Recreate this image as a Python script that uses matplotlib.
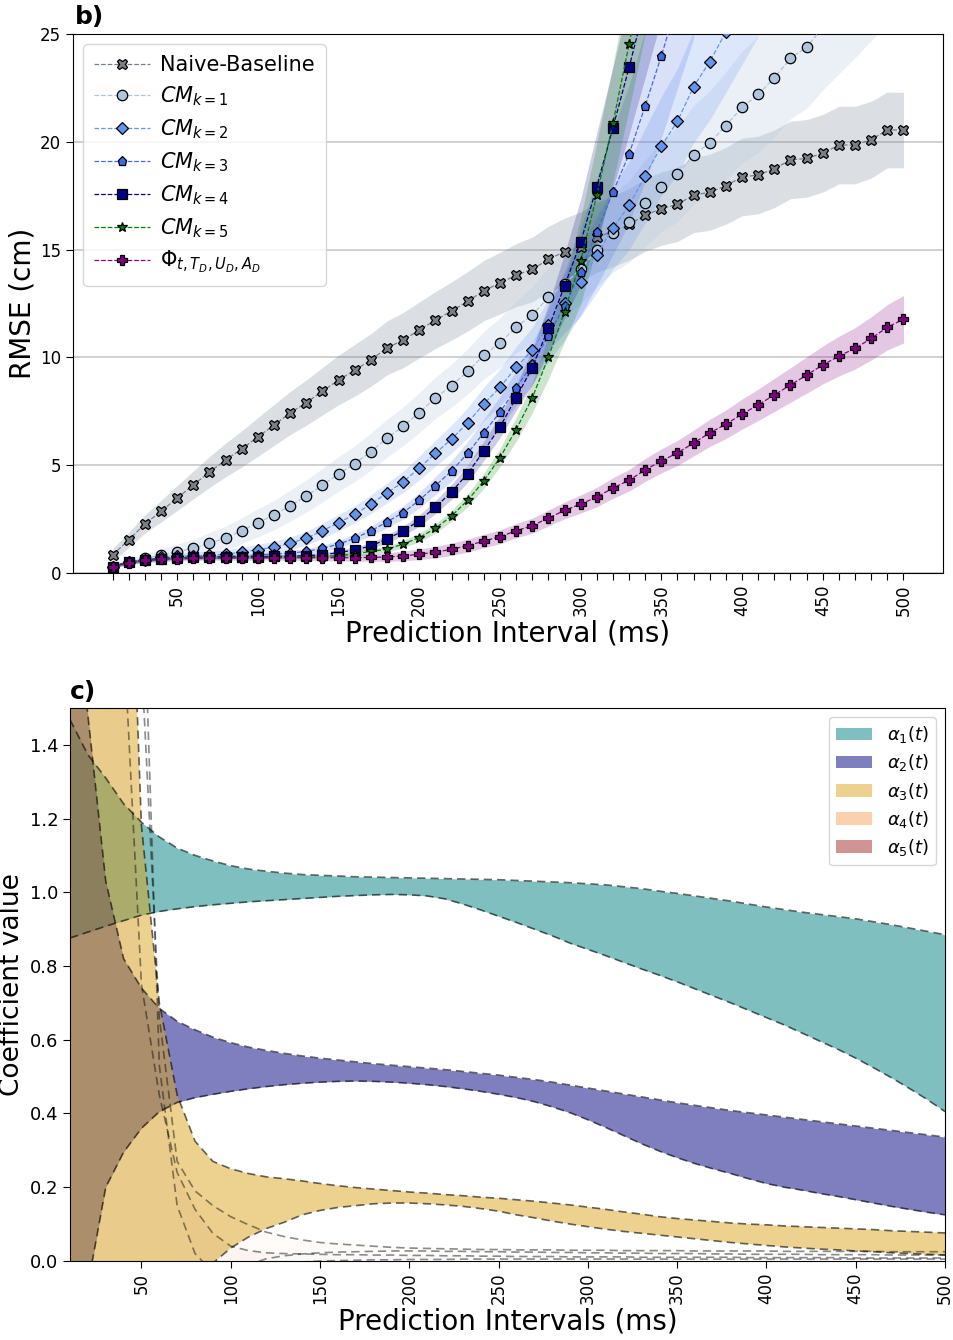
import matplotlib
matplotlib.use("Agg")
import matplotlib.pyplot as plt
import numpy as np
from matplotlib.patches import Patch

nan = float("nan")

# ---------------- panel b) data ----------------
x_ms = list(range(10, 501, 10))

naive = [0.83, 1.53, 2.27, 2.86, 3.47, 4.08, 4.68, 5.24, 5.75, 6.31,
         6.86, 7.42, 7.9, 8.43, 8.95, 9.4, 9.88, 10.44, 10.8, 11.27,
         11.73, 12.15, 12.6, 13.1, 13.44, 13.82, 14.08, 14.55, 14.9, 15.14,
         15.57, 15.85, 16.17, 16.6, 16.9, 17.1, 17.53, 17.66, 17.96, 18.37,
         18.46, 18.75, 19.16, 19.23, 19.47, 19.85, 19.85, 20.1, 20.55, 20.55]
naive_sd = [0.3, 0.35, 0.42, 0.5, 0.58, 0.65, 0.72, 0.78, 0.84, 0.9,
            0.95, 1.0, 1.05, 1.1, 1.15, 1.2, 1.22, 1.25, 1.28, 1.3,
            1.32, 1.35, 1.38, 1.4, 1.43, 1.46, 1.5, 1.53, 1.56, 1.6,
            1.62, 1.64, 1.66, 1.68, 1.7, 1.72, 1.74, 1.76, 1.78, 1.8,
            1.8, 1.8, 1.8, 1.8, 1.8, 1.8, 1.8, 1.78, 1.76, 1.75]

cm1 = [0.3, 0.52, 0.68, 0.83, 0.99, 1.14, 1.38, 1.61, 1.96, 2.33,
       2.69, 3.12, 3.57, 4.07, 4.59, 5.07, 5.63, 6.25, 6.8, 7.44,
       8.12, 8.69, 9.35, 10.1, 10.68, 11.4, 11.97, 12.78, 13.4, 14.1,
       14.98, 15.75, 16.3, 17.15, 17.92, 18.5, 19.39, 19.96, 20.75, 21.6,
       22.2, 22.97, 23.87, 24.4, 25.3, 26.1, 26.9, 27.7, 28.5, 29.3]
cm1_sd = [0.1, 0.15, 0.2, 0.28, 0.35, 0.42, 0.5, 0.55, 0.6, 0.65,
          0.68, 0.72, 0.75, 0.78, 0.8, 0.83, 0.86, 0.88, 0.9, 0.93,
          0.96, 1.0, 1.05, 1.1, 1.15, 1.2, 1.3, 1.4, 1.5, 1.6,
          1.7, 1.8, 1.9, 2.0, 2.1, 2.2, 2.3, 2.4, 2.5, 2.6,
          2.7, 2.75, 2.8, 2.85, 2.9, 2.95, 3.0, 3.0, 3.0, 3.0]

cm2 = [0.3, 0.5, 0.6, 0.72, 0.78, 0.8, 0.82, 0.87, 0.97, 1.08,
       1.2, 1.38, 1.61, 1.96, 2.33, 2.72, 3.19, 3.71, 4.22, 4.87,
       5.55, 6.21, 6.97, 7.84, 8.61, 9.54, 10.34, 11.5, 12.54, 13.5,
       14.75, 15.99, 17.05, 18.43, 19.8, 20.96, 22.56, 23.72, 25.1, 26.5,
       27.9, 29.3, nan, nan, nan, nan, nan, nan, nan, nan]
cm2_sd = [0.08, 0.1, 0.1, 0.12, 0.14, 0.16, 0.18, 0.2, 0.22, 0.25,
          0.27, 0.3, 0.32, 0.35, 0.38, 0.4, 0.43, 0.46, 0.5, 0.55,
          0.6, 0.65, 0.7, 0.78, 0.85, 0.95, 1.05, 1.2, 1.4, 1.6,
          1.75, 1.9, 2.05, 2.2, 2.3, 2.45, 2.6, 2.7, 2.8, 2.9,
          3.0, 3.0, nan, nan, nan, nan, nan, nan, nan, nan]

cm3 = [0.3, 0.5, 0.6, 0.68, 0.72, 0.74, 0.76, 0.78, 0.8, 0.83,
       0.87, 0.92, 1.0, 1.14, 1.34, 1.61, 1.95, 2.37, 2.8, 3.37,
       4.05, 4.73, 5.55, 6.51, 7.45, 8.57, 9.7, 11.0, 12.4, 13.97,
       15.83, 17.66, 19.43, 21.67, 23.98, 26.5, 29.0, nan, nan, nan,
       nan, nan, nan, nan, nan, nan, nan, nan, nan, nan]
cm3_sd = [0.06, 0.08, 0.08, 0.08, 0.08, 0.08, 0.08, 0.09, 0.1, 0.1,
          0.11, 0.12, 0.13, 0.15, 0.17, 0.2, 0.23, 0.27, 0.31, 0.36,
          0.42, 0.48, 0.55, 0.63, 0.72, 0.82, 0.95, 1.2, 1.6, 2.0,
          2.5, 2.9, 3.2, 3.5, 3.8, 4.0, 4.2, nan, nan, nan,
          nan, nan, nan, nan, nan, nan, nan, nan, nan, nan]

cm4 = [0.3, 0.5, 0.6, 0.66, 0.7, 0.72, 0.73, 0.74, 0.75, 0.76,
       0.77, 0.78, 0.8, 0.85, 0.94, 1.07, 1.25, 1.58, 1.95, 2.43,
       3.05, 3.76, 4.61, 5.66, 6.77, 8.13, 9.52, 11.35, 13.31, 15.34,
       17.92, 20.65, 23.45, 26.4, 29.3, nan, nan, nan, nan, nan,
       nan, nan, nan, nan, nan, nan, nan, nan, nan, nan]
cm4_sd = [0.06, 0.07, 0.07, 0.07, 0.07, 0.07, 0.07, 0.07, 0.07, 0.07,
          0.08, 0.08, 0.09, 0.1, 0.11, 0.13, 0.15, 0.18, 0.22, 0.26,
          0.3, 0.35, 0.4, 0.45, 0.5, 0.6, 0.8, 1.1, 1.5, 2.0,
          2.5, 2.8, 3.1, 3.4, 3.6, nan, nan, nan, nan, nan,
          nan, nan, nan, nan, nan, nan, nan, nan, nan, nan]

cm5 = [0.3, 0.5, 0.6, 0.66, 0.7, 0.71, 0.72, 0.72, 0.73, 0.73,
       0.74, 0.74, 0.75, 0.76, 0.8, 0.88, 1.0, 1.1, 1.34, 1.64,
       2.07, 2.64, 3.37, 4.27, 5.35, 6.65, 8.12, 10.0, 12.12, 14.47,
       17.53, 20.86, 24.52, 28.3, 32.0, nan, nan, nan, nan, nan,
       nan, nan, nan, nan, nan, nan, nan, nan, nan, nan]
cm5_sd = [0.05, 0.06, 0.06, 0.06, 0.06, 0.06, 0.06, 0.06, 0.06, 0.06,
          0.06, 0.07, 0.07, 0.08, 0.09, 0.1, 0.12, 0.14, 0.17, 0.2,
          0.22, 0.25, 0.3, 0.35, 0.42, 0.55, 0.7, 1.0, 1.4, 2.0,
          2.4, 2.7, 3.0, 3.3, 3.6, nan, nan, nan, nan, nan,
          nan, nan, nan, nan, nan, nan, nan, nan, nan, nan]

phi = [0.3, 0.48, 0.58, 0.63, 0.66, 0.68, 0.69, 0.7, 0.7, 0.7,
       0.71, 0.71, 0.71, 0.71, 0.71, 0.71, 0.72, 0.74, 0.79, 0.87,
       0.96, 1.1, 1.27, 1.48, 1.68, 1.96, 2.19, 2.55, 2.9, 3.2,
       3.52, 3.94, 4.3, 4.78, 5.2, 5.57, 6.03, 6.5, 6.9, 7.37,
       7.8, 8.26, 8.72, 9.18, 9.65, 10.06, 10.42, 10.88, 11.4, 11.77]
phi_sd = [0.05, 0.08, 0.1, 0.1, 0.1, 0.1, 0.1, 0.1, 0.1, 0.1,
          0.11, 0.12, 0.13, 0.14, 0.15, 0.16, 0.18, 0.2, 0.22, 0.25,
          0.27, 0.28, 0.3, 0.31, 0.32, 0.33, 0.35, 0.37, 0.39, 0.42,
          0.45, 0.48, 0.5, 0.53, 0.56, 0.58, 0.6, 0.63, 0.66, 0.7,
          0.73, 0.77, 0.8, 0.84, 0.88, 0.92, 0.96, 1.0, 1.05, 1.1]

labels_b = ["Naive-Baseline", r"$CM_{k=1}$", r"$CM_{k=2}$", r"$CM_{k=3}$",
            r"$CM_{k=4}$", r"$CM_{k=5}$", r"$\Phi_{t,T_D,U_D,A_D}$"]

# ---------------- panel c) data ----------------
a1_hi = [1.468, 1.373, 1.31, 1.24, 1.19, 1.15, 1.12, 1.10, 1.085, 1.072,
         1.063, 1.057, 1.052, 1.048, 1.046, 1.044, 1.042, 1.041, 1.04, 1.039,
         1.038, 1.037, 1.036, 1.035, 1.034, 1.032, 1.03, 1.028, 1.026, 1.023,
         1.02, 1.015, 1.01, 1.003, 0.997, 0.99, 0.983, 0.976, 0.968, 0.96,
         0.953, 0.946, 0.94, 0.934, 0.928, 0.92, 0.912, 0.903, 0.894, 0.885]
a1_lo = [0.876, 0.892, 0.908, 0.923, 0.938, 0.948, 0.955, 0.961, 0.966, 0.97,
         0.974, 0.977, 0.98, 0.983, 0.986, 0.989, 0.991, 0.993, 0.994, 0.993,
         0.99, 0.982, 0.968, 0.952, 0.935, 0.918, 0.9, 0.882, 0.862, 0.845,
         0.828, 0.81, 0.792, 0.775, 0.757, 0.738, 0.719, 0.7, 0.68, 0.66,
         0.64, 0.618, 0.596, 0.574, 0.55, 0.524, 0.497, 0.468, 0.438, 0.405]
a2_hi = [1.98, 1.48, 1.03, 0.82, 0.74, 0.685, 0.65, 0.627, 0.607, 0.592,
         0.58, 0.571, 0.563, 0.556, 0.55, 0.545, 0.54, 0.535, 0.531, 0.527,
         0.523, 0.519, 0.514, 0.509, 0.504, 0.498, 0.492, 0.485, 0.477, 0.469,
         0.461, 0.453, 0.445, 0.437, 0.429, 0.422, 0.415, 0.408, 0.402, 0.396,
         0.39, 0.384, 0.378, 0.372, 0.366, 0.36, 0.354, 0.348, 0.342, 0.336]
a2_lo = [-0.3, -0.066, 0.2, 0.295, 0.36, 0.405, 0.43, 0.443, 0.452, 0.46,
         0.467, 0.473, 0.478, 0.482, 0.485, 0.487, 0.488, 0.487, 0.485, 0.482,
         0.478, 0.473, 0.467, 0.46, 0.452, 0.443, 0.432, 0.418, 0.402, 0.383,
         0.362, 0.34, 0.318, 0.298, 0.28, 0.264, 0.25, 0.237, 0.223, 0.21,
         0.2, 0.192, 0.183, 0.175, 0.166, 0.157, 0.148, 0.14, 0.132, 0.125]
a3_hi = [4.0, 3.5, 3.0, 2.5, 1.18, 0.7, 0.45, 0.325, 0.27, 0.25,
         0.237, 0.228, 0.223, 0.217, 0.21, 0.204, 0.199, 0.195, 0.191, 0.187,
         0.184, 0.18, 0.177, 0.173, 0.17, 0.166, 0.162, 0.157, 0.152, 0.146,
         0.14, 0.133, 0.127, 0.12, 0.115, 0.111, 0.107, 0.103, 0.1, 0.098,
         0.095, 0.093, 0.091, 0.089, 0.087, 0.085, 0.082, 0.08, 0.078, 0.076]
a3_lo = [-0.6, -0.5, -0.42, -0.35, -0.28, -0.21, -0.15, -0.06, -0.006, 0.035,
         0.065, 0.088, 0.105, 0.125, 0.137, 0.145, 0.15, 0.155, 0.157, 0.157,
         0.155, 0.152, 0.148, 0.142, 0.135, 0.125, 0.117, 0.108, 0.1, 0.093,
         0.086, 0.08, 0.075, 0.07, 0.065, 0.06, 0.055, 0.05, 0.046, 0.042,
         0.038, 0.035, 0.032, 0.03, 0.027, 0.025, 0.022, 0.02, 0.018, 0.016]
a4_hi = [5.5, 4.5, 3.5, 2.6, 1.63, 0.66, 0.27, 0.19, 0.15, 0.12,
         0.098, 0.078, 0.066, 0.057, 0.05, 0.046, 0.043, 0.04, 0.037, 0.035,
         0.034, 0.033, 0.032, 0.031, 0.031, 0.03, 0.03, 0.03, 0.029, 0.029,
         0.029, 0.028, 0.028, 0.028, 0.028, 0.027, 0.027, 0.027, 0.027, 0.027,
         0.026, 0.026, 0.026, 0.026, 0.026, 0.026, 0.025, 0.025, 0.025, 0.025]
a4_lo = [6.0, 5.0, 4.0, 3.0, 2.0, 0.53, 0.15, 0.02, -0.03, -0.03,
         -0.01, 0.006, 0.014, 0.019, 0.022, 0.024, 0.025, 0.026, 0.027, 0.027,
         0.027, 0.026, 0.026, 0.025, 0.025, 0.024, 0.024, 0.023, 0.023, 0.022,
         0.022, 0.021, 0.021, 0.02, 0.02, 0.02, 0.019, 0.019, 0.018, 0.018,
         0.018, 0.018, 0.017, 0.017, 0.017, 0.017, 0.016, 0.016, 0.016, 0.016]
a5_hi = [5.0, 4.0, 3.0, 1.7, 0.75, 0.45, 0.24, 0.14, 0.075, 0.04,
         0.028, 0.022, 0.02, 0.019, 0.018, 0.017, 0.017, 0.016, 0.016, 0.015,
         0.015, 0.014, 0.014, 0.013, 0.013, 0.012, 0.012, 0.012, 0.011, 0.011,
         0.011, 0.011, 0.01, 0.01, 0.01, 0.01, 0.01, 0.01, 0.009, 0.009,
         0.009, 0.009, 0.009, 0.009, 0.008, 0.008, 0.008, 0.008, 0.008, 0.008]
a5_lo = [-0.2, -0.2, -0.2, -0.2, -0.15, -0.1, -0.06, -0.04, -0.03, -0.02,
         -0.015, -0.01, -0.006, -0.003, 0.0, 0.001, 0.002, 0.003, 0.003, 0.004,
         0.004, 0.004, 0.005, 0.005, 0.005, 0.005, 0.005, 0.005, 0.005, 0.005,
         0.005, 0.005, 0.005, 0.005, 0.005, 0.005, 0.005, 0.005, 0.005, 0.005,
         0.005, 0.005, 0.005, 0.005, 0.005, 0.005, 0.005, 0.005, 0.005, 0.005]
labels_c = [r"$\alpha_1(t)$", r"$\alpha_2(t)$", r"$\alpha_3(t)$",
            r"$\alpha_4(t)$", r"$\alpha_5(t)$"]

# ---------------- figure ----------------
fig = plt.figure(figsize=(9.54, 13.4), dpi=100)
ax1 = fig.add_axes([0.0765, 0.5724, 0.912, 0.4022])
ax2 = fig.add_axes([0.0734, 0.059, 0.9172, 0.4127])

xa = np.array(x_ms, dtype=float)

series = [
    (naive, naive_sd, "slategray", "slategray", "X", "#7a7f85", 7.5, 0.25),
    (cm1, cm1_sd, "lightsteelblue", "lightsteelblue", "o", "lightsteelblue", 7.5, 0.25),
    (cm2, cm2_sd, "cornflowerblue", "cornflowerblue", "D", "cornflowerblue", 6.5, 0.22),
    (cm3, cm3_sd, "royalblue", "royalblue", "p", "royalblue", 6.5, 0.2),
    (cm4, cm4_sd, "navy", "navy", "s", "navy", 6.5, 0.2),
    (cm5, cm5_sd, "green", "green", "*", "green", 7.5, 0.2),
    (phi, phi_sd, "purple", "darkmagenta", "P", "purple", 7.5, 0.22),
]

for (vals, sd, bandc, linec, mk, mfc, ms, al), lab in zip(series, labels_b):
    v = np.array(vals, dtype=float)
    s = np.array(sd, dtype=float)
    ax1.fill_between(xa, v - s, v + s, color=bandc, alpha=al, lw=0, zorder=1)
for (vals, sd, bandc, linec, mk, mfc, ms, al), lab in zip(series, labels_b):
    v = np.array(vals, dtype=float)
    ax1.plot(xa, v, ls="--", lw=0.9, color=linec, marker=mk, ms=ms,
             mfc=mfc, mec="black", mew=0.9, label=lab, zorder=3)

ax1.set_xlim(-14.5, 524.5)
ax1.set_ylim(0, 25)
ax1.set_xticks(x_ms)
ax1.set_xticklabels([str(t) if t % 50 == 0 else "" for t in x_ms], rotation=90)
ax1.set_yticks([0, 5, 10, 15, 20, 25])
ax1.tick_params(labelsize=12, length=5)
ax1.yaxis.grid(True, color="#c8c8c8", lw=1.2)
ax1.set_axisbelow(True)
ax1.set_xlabel("Prediction Interval (ms)", fontsize=20, labelpad=2)
ax1.set_ylabel("RMSE (cm)", fontsize=20)
ax1.yaxis.set_label_coords(-0.042, 0.5)
ax1.legend(loc="upper left", fontsize=15, handlelength=2.7, labelspacing=0.45,
           borderpad=0.5, handletextpad=0.5)

# panel c
colors_c = ["teal", "navy", "goldenrod", "sandybrown", "brown"]
bands_c = [(a1_lo, a1_hi), (a2_lo, a2_hi), (a3_lo, a3_hi), (a4_lo, a4_hi), (a5_lo, a5_hi)]
fill_alpha = [0.5, 0.5, 0.5, 0.04, 0.03]
edge_alpha = [0.6, 0.6, 0.6, 0.45, 0.45]
for (lo, hi), c, fa, ea in zip(bands_c, colors_c, fill_alpha, edge_alpha):
    lo = np.array(lo, dtype=float)
    hi = np.array(hi, dtype=float)
    ax2.fill_between(xa, lo, hi, color=c, alpha=fa, lw=0)
    ax2.plot(xa, lo, ls=(0, (5, 3)), color="black", alpha=ea, lw=1.2)
    ax2.plot(xa, hi, ls=(0, (5, 3)), color="black", alpha=ea, lw=1.2)

ax2.set_xlim(10, 500)
ax2.set_ylim(0, 1.5)
ax2.set_xticks(list(range(50, 501, 50)))
ax2.set_xticklabels([str(t) for t in range(50, 501, 50)], rotation=90)
ax2.set_yticks([0.0, 0.2, 0.4, 0.6, 0.8, 1.0, 1.2, 1.4])
ax2.set_yticklabels(["0.0", "0.2", "0.4", "0.6", "0.8", "1.0", "1.2", "1.4"])
ax2.tick_params(axis="x", labelsize=12, length=5)
ax2.tick_params(axis="y", labelsize=13, length=5)
ax2.set_xlabel("Prediction Intervals (ms)", fontsize=20, labelpad=2)
ax2.set_ylabel("Coefficient value", fontsize=19)
ax2.yaxis.set_label_coords(-0.051, 0.5)
handles = [Patch(facecolor=c, alpha=0.5, edgecolor="none") for c in colors_c]
ax2.legend(handles, labels_c, loc="upper right", fontsize=13, labelspacing=0.4)

fig.text(0.079, 0.987, "b)", fontsize=18, fontweight="bold", va="center")
fig.text(0.073, 0.4836, "c)", fontsize=18, fontweight="bold", va="center")

fig.savefig("out.png", dpi=100)
